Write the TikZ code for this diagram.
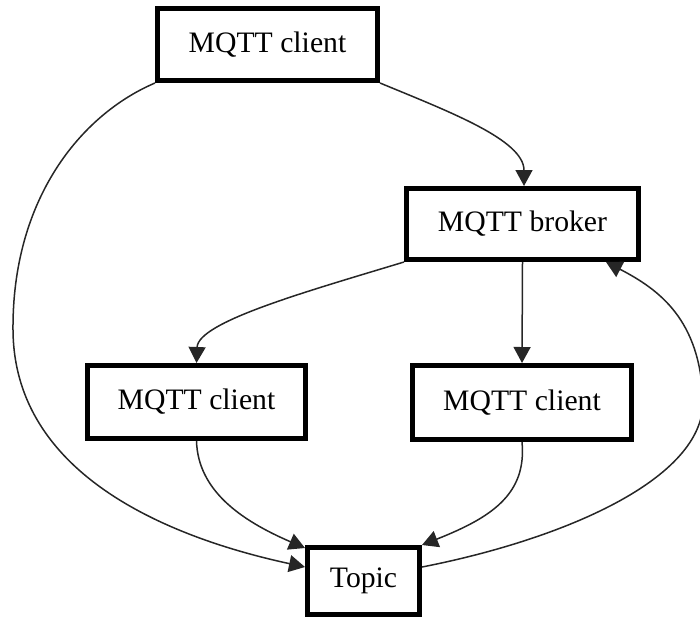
\documentclass[tikz,border=0pt]{standalone}
\usepackage{fontspec}
\setmainfont{Liberation Serif}
\usetikzlibrary{arrows.meta}
\begin{document}
\begin{tikzpicture}[x=1pt,y=-1pt,
  box/.style={draw=black,line width=4.6pt,fill=white,inner sep=0pt,
    font=\fontsize{29.7}{34}\selectfont},
  link/.style={draw=black!85,line width=1.5pt,
    -{Triangle[length=16pt,width=17pt]}}]
\useasboundingbox (0,0) rectangle (700,619);

% nodes
\node[box,minimum width=220.4pt,minimum height=72.4pt] (top) at (267.5,44.5) {MQTT client};
\node[box,minimum width=232.4pt,minimum height=71.4pt] (broker) at (522.5,224) {MQTT broker};
\node[box,minimum width=218.4pt,minimum height=73.4pt] (left) at (196.5,402) {MQTT client};
\node[box,minimum width=219.4pt,minimum height=74.4pt] (right) at (522,402.5) {MQTT client};
\node[box,minimum width=112.4pt,minimum height=67.4pt] (topic) at (363.5,581) {Topic};

% connectors
\draw[link] (top.south east) .. controls (450,112) and (524,140) .. (broker.north -| 524,0);
\draw[link] (top.south west) .. controls (80,115) and (12,200) .. (13,330)
  .. controls (14,480) and (180,540) .. (topic.west |- 0,567);
\draw[link] (broker.south west) .. controls (305,292) and (198,322) .. (left.north);
\draw[link] (broker.south) -- (right.north);
\draw[link] (left.south) .. controls (198,490) and (240,520) .. (topic.north west |- 0,548);
\draw[link] (right.south) .. controls (527,495) and (490,518) .. (topic.north east);
\draw[link] (topic.east |- 0,567) .. controls (560,540) and (705,480) .. (703,400)
  .. controls (700,320) and (660,290) .. (broker.south east -| 606,0);
\end{tikzpicture}
\end{document}
